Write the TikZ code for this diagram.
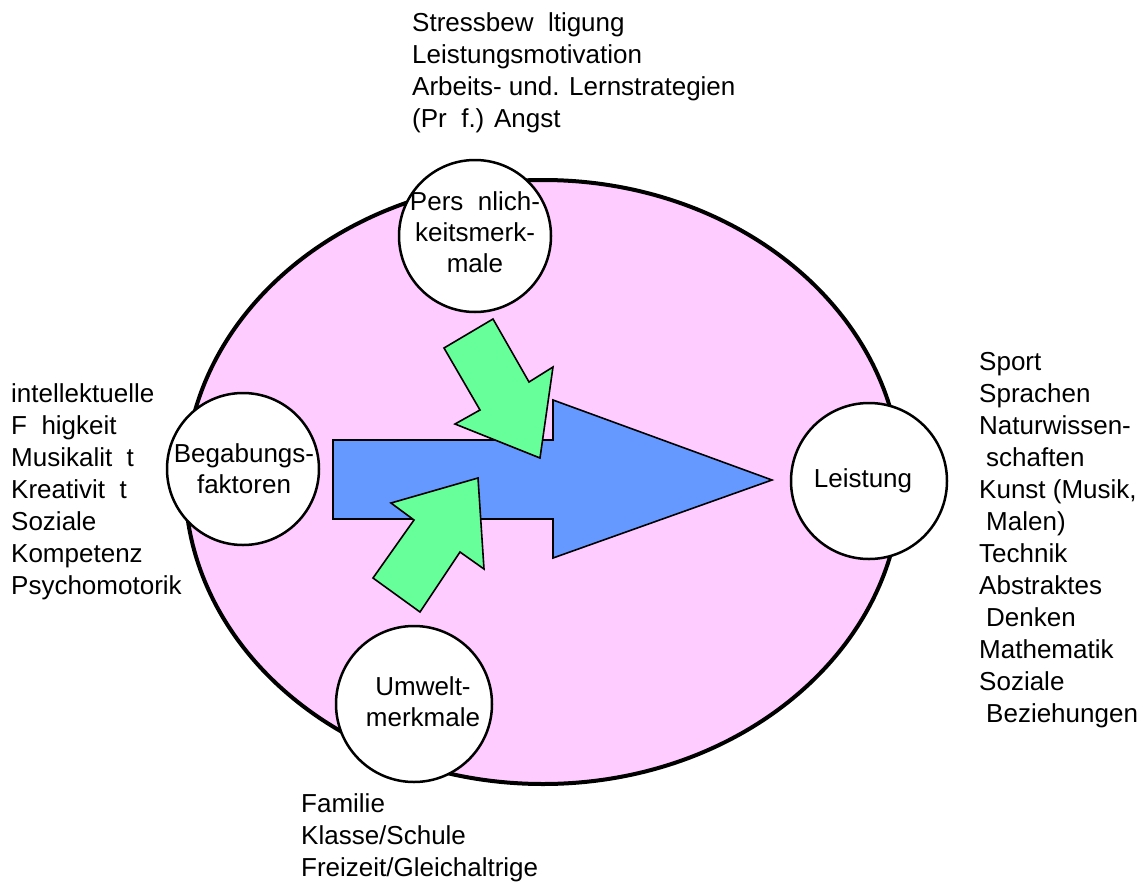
\documentclass[tikz,border=0pt]{standalone}
\usepackage{fontspec}
\setmainfont{Liberation Sans}
\definecolor{pinkfill}{HTML}{FFCCFF}
\definecolor{bluefill}{HTML}{6699FF}
\definecolor{greenfill}{HTML}{66FF99}
\begin{document}
\begin{tikzpicture}[x=1pt,y=-1pt,
  txt/.style={font=\fontsize{26}{32}\selectfont, inner sep=0pt, align=left, anchor=north west},
  ctxt/.style={font=\fontsize{26}{31}\selectfont, inner sep=0pt, align=center},
  circ/.style={circle, draw=black, line width=2.5pt, fill=white, minimum size=#1, inner sep=0pt},
  bluearrow/.style={draw=black, line width=1.6pt, line join=miter, fill=bluefill},
  greenarrow/.style={draw=black, line width=1.6pt, line join=miter, fill=greenfill}]
\useasboundingbox (0,0) rectangle (1146,881);
% background ellipse
\draw[fill=pinkfill, line width=4pt] (543,482) ellipse [x radius=358pt, y radius=302pt];
% big blue arrow
\draw[bluearrow] (333,440) -- (553,440) -- (553,400) -- (772,480) -- (553,558) -- (553,519) -- (333,519) -- cycle;
% green arrows
\draw[greenarrow] (444,348) -- (493,319) -- (529,382) -- (553,367) -- (540,458) -- (455,424) -- (480,410) -- cycle;
\draw[greenarrow] (373,578) -- (420,612) -- (460,552) -- (484,569) -- (478,478) -- (391,503) -- (414,520) -- cycle;
% circles
\node[circ=152pt] (pers) at (475,236) {};
\node[ctxt] (perstext) at (475,232) {Pers\ \ nlich-\\keitsmerk-\\male};
\node[circ=152pt] (beg) at (243,469) {};
\node[ctxt] (begtext) at (244,469) {Begabungs-\\faktoren};
\node[circ=156pt] (lei) at (869,481) {};
\node[ctxt] (leitext) at (863,481) {Leistung};
\node[circ=156pt] (umw) at (414,704) {};
\node[ctxt] (umwtext) at (423,702) {Umwelt-\\merkmale};
% outer text lists
\node[txt] (toplist) at (412,11) {\rule{0pt}{20pt}Stressbew\ \ ltigung\\Leistungsmotivation\\Arbeits- und. Lernstrategien\\(Pr\ \ f.) Angst};
\node[txt] (leftlist) at (11,382) {\rule{0pt}{20pt}intellektuelle\\F\ \ higkeit\\Musikalit\ \ t\\Kreativit\ \ t\\Soziale\\Kompetenz\\Psychomotorik};
\node[txt] (rightlist) at (979,350) {\rule{0pt}{20pt}Sport\\Sprachen\\Naturwissen-\\\hspace*{7pt}schaften\\Kunst (Musik,\\\hspace*{7pt}Malen)\\Technik\\Abstraktes\\\hspace*{7pt}Denken\\Mathematik\\Soziale\\\hspace*{7pt}Beziehungen};
\node[txt] (bottomlist) at (301,792) {\rule{0pt}{20pt}Familie\\Klasse/Schule\\Freizeit/Gleichaltrige};
\end{tikzpicture}
\end{document}
